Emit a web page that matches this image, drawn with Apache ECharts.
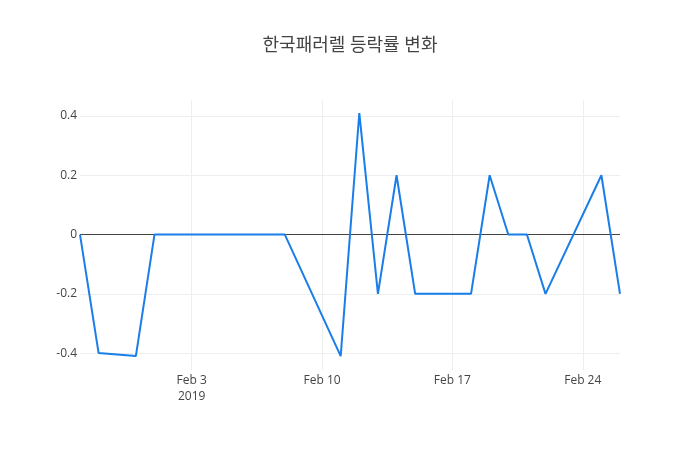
<!DOCTYPE html>
<html>
<head>
<meta charset="utf-8">
<script src="https://cdn.jsdelivr.net/npm/echarts@6/dist/echarts.min.js"></script>
<style>html,body{margin:0;padding:0;background:#fff;}#c{width:700px;height:450px;}</style>
</head>
<body>
<div id="c"></div>
<script>
const titleText = '한국패러렐 등락률 변화';
const dates = ['2019-01-28','2019-01-29','2019-01-31','2019-02-01','2019-02-07','2019-02-08','2019-02-11','2019-02-12','2019-02-13','2019-02-14','2019-02-15','2019-02-18','2019-02-19','2019-02-20','2019-02-21','2019-02-22','2019-02-25','2019-02-26'];
const changes = [0, -0.40, -0.41, 0, 0, 0, -0.41, 0.41, -0.2, 0.2, -0.2, -0.2, 0.2, 0, 0, -0.2, 0.2, -0.2];
const xTickDates = ['2019-02-03','2019-02-10','2019-02-17','2019-02-24'];
const yTicks = [-0.4, -0.2, 0, 0.2, 0.4];
const monthNames = ['Jan','Feb','Mar','Apr','May','Jun','Jul','Aug','Sep','Oct','Nov','Dec'];

const DAY = 86400000;
const ref = Date.UTC(2019, 1, 3);
const toDay = s => { const p = s.split('-').map(Number); return (Date.UTC(p[0], p[1]-1, p[2]) - ref) / DAY; };
const seriesData = dates.map((d, i) => [toDay(d), changes[i]]);
const xTicks = xTickDates.map(toDay);

const fmtDay = v => {
  const d = new Date(ref + v * DAY);
  const lbl = monthNames[d.getUTCMonth()] + ' ' + d.getUTCDate();
  return v === xTicks[0] ? lbl + '\n' + d.getUTCFullYear() : lbl;
};

const chart = echarts.init(document.getElementById('c'), null, {renderer: 'canvas'});
chart.setOption({
  animation: false,
  backgroundColor: '#fff',
  title: {
    text: titleText,
    left: 'center',
    top: 32,
    textStyle: {fontFamily: '"Open Sans", "Noto Sans CJK KR", sans-serif', fontSize: 18, fontWeight: 'normal', color: '#444'}
  },
  grid: {left: 80, right: 80, top: 100, bottom: 80, containLabel: false},
  xAxis: {
    type: 'value',
    min: toDay(dates[0]),
    max: toDay(dates[dates.length - 1]),
    axisLine: {show: false},
    axisTick: {show: false, customValues: xTicks},
    splitLine: {show: true, lineStyle: {color: '#eee', width: 1}},
    axisLabel: {
      customValues: xTicks,
      margin: 3, color: '#444', fontSize: 12, lineHeight: 16,
      fontFamily: '"Open Sans", sans-serif',
      formatter: fmtDay
    }
  },
  yAxis: {
    type: 'value',
    min: -0.457,
    max: 0.454,
    axisLine: {show: false},
    axisTick: {show: false, customValues: yTicks},
    splitLine: {show: true, lineStyle: {color: '#eee', width: 1}},
    axisLabel: {
      customValues: yTicks,
      margin: 3, color: '#444', fontSize: 12,
      fontFamily: '"Open Sans", sans-serif',
      formatter: v => (Math.abs(v) < 1e-9 ? '0' : String(Math.round(v * 10) / 10))
    }
  },
  series: [{
    type: 'line',
    data: seriesData,
    showSymbol: false,
    symbol: 'none',
    lineStyle: {color: '#1a7ee8', width: 2},
    z: 3,
    markLine: {
      silent: true,
      symbol: 'none',
      label: {show: false},
      lineStyle: {color: '#444', width: 1, type: 'solid'},
      data: [{yAxis: 0}],
      z: 2
    }
  }]
});
</script>
</body>
</html>
